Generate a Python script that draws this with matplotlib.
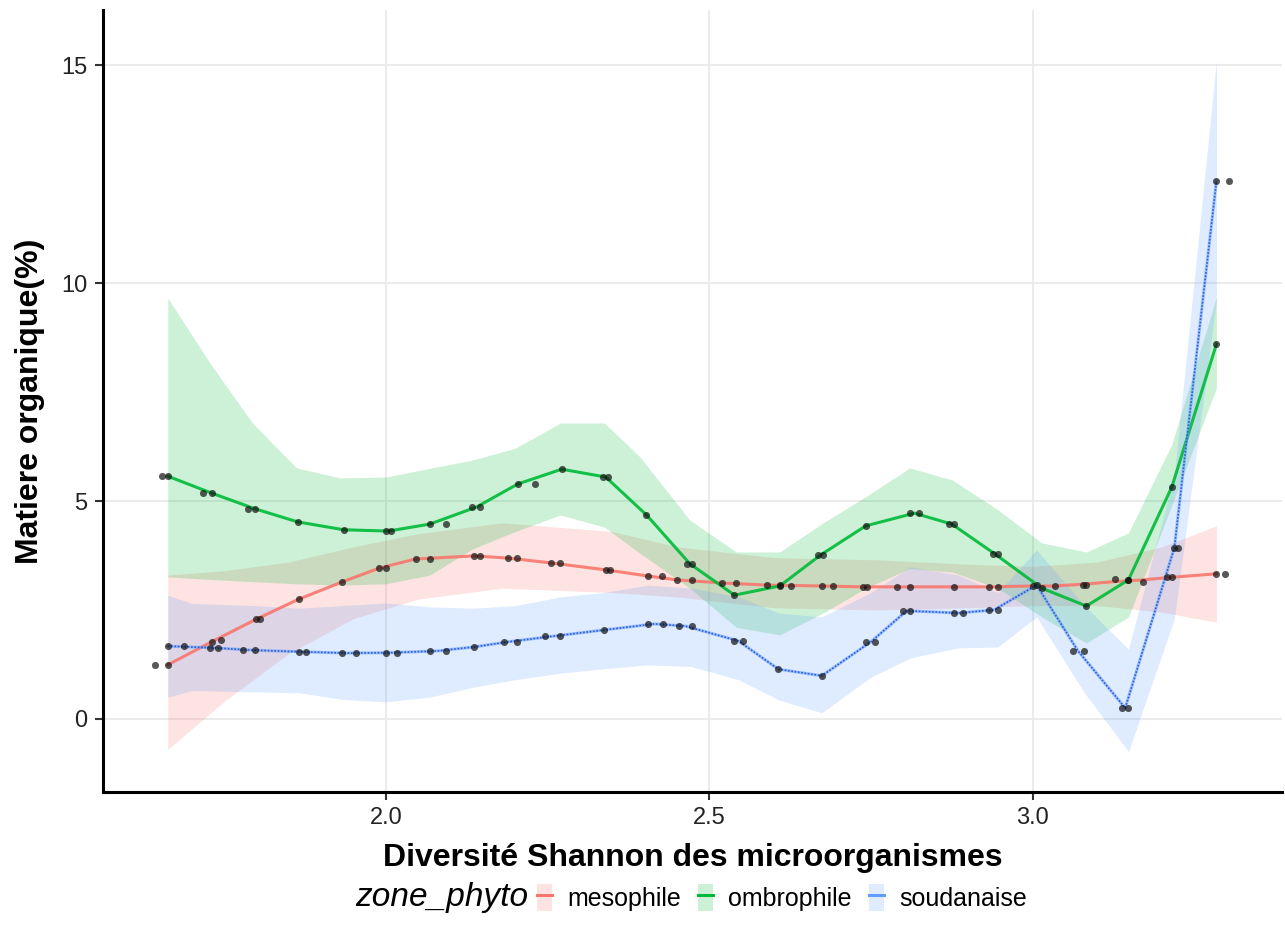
import numpy as np
import matplotlib.pyplot as plt
from matplotlib.lines import Line2D
from matplotlib.patches import Patch

plt.rcParams['font.family'] = ['Liberation Sans', 'DejaVu Sans']

# mesophile: smoothed line, confidence band, observations
meso_x = [1.663, 1.731, 1.80, 1.866, 1.932, 1.99, 2.046, 2.137, 2.189, 2.255, 2.34, 2.405,
          2.45, 2.519, 2.59, 2.675, 2.737, 2.79, 2.878, 2.932, 3.0, 3.034, 3.077, 3.127,
          3.17, 3.207, 3.284]
meso_y = [1.24, 1.77, 2.29, 2.75, 3.14, 3.46, 3.67, 3.74, 3.69, 3.58, 3.42, 3.28,
          3.19, 3.12, 3.07, 3.05, 3.03, 3.03, 3.03, 3.03, 3.05, 3.05, 3.09, 3.15,
          3.19, 3.24, 3.33]
meso_band_x = [1.663, 1.75, 1.85, 1.95, 2.05, 2.18, 2.35, 2.45, 2.6, 2.76, 2.9, 3.0, 3.1, 3.2, 3.284]
meso_lo = [-0.7, 0.4, 1.5, 2.3, 2.75, 3.0, 2.9, 2.8, 2.55, 2.5, 2.55, 2.6, 2.6, 2.45, 2.22]
meso_hi = [3.3, 3.4, 3.6, 3.95, 4.25, 4.5, 4.3, 3.95, 3.7, 3.65, 3.55, 3.5, 3.6, 3.95, 4.43]
meso_pts_x = [1.643, 1.663, 1.731, 1.746, 1.80, 1.806, 1.866, 1.932, 1.99, 2.0, 2.046, 2.068,
              2.137, 2.145, 2.189, 2.203, 2.255, 2.27, 2.34, 2.346, 2.405, 2.427, 2.45, 2.473,
              2.519, 2.541, 2.59, 2.609, 2.627, 2.675, 2.691, 2.737, 2.744, 2.79, 2.81, 2.878,
              2.932, 2.946, 3.0, 3.034, 3.077, 3.083, 3.127, 3.148, 3.17, 3.207, 3.216, 3.284, 3.297]
meso_pts_y = [1.24, 1.24, 1.77, 1.80, 2.29, 2.29, 2.75, 3.14, 3.46, 3.46, 3.67, 3.67,
              3.74, 3.74, 3.69, 3.69, 3.58, 3.58, 3.42, 3.42, 3.28, 3.28, 3.19, 3.19,
              3.12, 3.12, 3.07, 3.07, 3.06, 3.05, 3.05, 3.03, 3.03, 3.03, 3.03, 3.03,
              3.03, 3.03, 3.05, 3.04, 3.08, 3.08, 3.22, 3.19, 3.15, 3.25, 3.25, 3.33, 3.33]

# ombrophile
ombro_x = [1.663, 1.731, 1.798, 1.864, 1.935, 2.004, 2.068, 2.14, 2.204, 2.272, 2.34, 2.403,
           2.47, 2.539, 2.609, 2.672, 2.742, 2.817, 2.875, 2.942, 3.014, 3.083, 3.148, 3.215, 3.284]
ombro_y = [5.57, 5.18, 4.82, 4.52, 4.34, 4.31, 4.47, 4.86, 5.39, 5.73, 5.55, 4.68,
           3.56, 2.84, 3.05, 3.76, 4.43, 4.72, 4.47, 3.78, 3.0, 2.59, 3.19, 5.32, 8.6]
ombro_band_x = [1.663, 1.728, 1.794, 1.862, 1.929, 2.0, 2.068, 2.134, 2.2, 2.27, 2.338, 2.393,
                2.47, 2.542, 2.609, 2.676, 2.742, 2.81, 2.876, 2.946, 3.014, 3.083, 3.148, 3.215, 3.284]
ombro_lo = [3.26, 3.2, 3.15, 3.1, 3.07, 3.1, 3.3, 3.9, 4.3, 4.68, 4.4, 3.8,
            3.0, 2.1, 1.93, 2.43, 3.0, 3.45, 3.37, 3.0, 2.34, 1.74, 2.34, 4.9, 7.6]
ombro_hi = [9.66, 8.17, 6.79, 5.76, 5.53, 5.55, 5.75, 5.94, 6.21, 6.79, 6.79, 6.01,
            4.56, 3.83, 3.83, 4.5, 5.1, 5.76, 5.48, 4.8, 4.04, 3.83, 4.27, 6.3, 9.68]
ombro_pts_x = [1.654, 1.663, 1.717, 1.731, 1.787, 1.798, 1.864, 1.935, 2.0, 2.008, 2.068, 2.093,
               2.134, 2.145, 2.204, 2.23, 2.272, 2.336, 2.343, 2.403, 2.465, 2.473, 2.539, 2.609,
               2.668, 2.676, 2.742, 2.81, 2.824, 2.87, 2.879, 2.938, 2.946, 3.014, 3.083, 3.148,
               3.215, 3.284]
ombro_pts_y = [5.57, 5.57, 5.18, 5.18, 4.82, 4.82, 4.52, 4.34, 4.31, 4.31, 4.47, 4.47,
               4.86, 4.86, 5.39, 5.39, 5.73, 5.55, 5.55, 4.68, 3.56, 3.56, 2.84, 3.05,
               3.76, 3.76, 4.43, 4.72, 4.72, 4.47, 4.47, 3.78, 3.78, 3.0, 2.59, 3.19,
               5.32, 8.6]

# soudanaise
souda_x = [1.663, 1.735, 1.79, 1.87, 1.94, 2.01, 2.08, 2.136, 2.19, 2.26, 2.337, 2.415,
           2.463, 2.545, 2.607, 2.674, 2.75, 2.805, 2.885, 2.94, 3.006, 3.07, 3.143, 3.219, 3.284]
souda_y = [1.67, 1.63, 1.58, 1.54, 1.51, 1.52, 1.56, 1.65, 1.77, 1.90, 2.04, 2.18,
           2.13, 1.79, 1.14, 0.99, 1.77, 2.48, 2.43, 2.50, 3.07, 1.56, 0.25, 3.93, 12.34]
souda_band_x = [1.663, 1.70, 1.80, 1.866, 1.932, 2.0, 2.068, 2.136, 2.20, 2.27, 2.337, 2.405,
                2.473, 2.545, 2.607, 2.674, 2.75, 2.811, 2.885, 2.946, 3.006, 3.08, 3.148, 3.219, 3.284]
souda_lo = [0.5, 0.65, 0.62, 0.6, 0.45, 0.39, 0.5, 0.73, 0.9, 1.05, 1.15, 1.24,
            1.2, 0.9, 0.44, 0.14, 0.96, 1.4, 1.63, 1.65, 2.34, 0.6, -0.75, 2.3, 9.6]
souda_hi = [2.84, 2.65, 2.6, 2.54, 2.6, 2.66, 2.57, 2.54, 2.6, 2.8, 2.9, 3.07,
            3.0, 2.8, 2.43, 2.34, 2.9, 3.49, 3.3, 2.9, 3.88, 2.6, 1.6, 5.6, 15.1]
souda_pts_x = [1.663, 1.688, 1.729, 1.74, 1.779, 1.798, 1.866, 1.876, 1.932, 1.954, 2.0, 2.018,
               2.068, 2.093, 2.136, 2.182, 2.203, 2.246, 2.27, 2.337, 2.405, 2.428, 2.453, 2.473,
               2.539, 2.552, 2.607, 2.674, 2.743, 2.756, 2.799, 2.811, 2.879, 2.892, 2.932, 2.946,
               3.006, 3.062, 3.08, 3.138, 3.148, 3.219, 3.224, 3.284, 3.304]
souda_pts_y = [1.67, 1.67, 1.63, 1.63, 1.58, 1.58, 1.54, 1.54, 1.51, 1.51, 1.52, 1.52,
               1.56, 1.56, 1.65, 1.77, 1.77, 1.90, 1.90, 2.04, 2.18, 2.18, 2.13, 2.13,
               1.79, 1.79, 1.14, 0.99, 1.77, 1.77, 2.48, 2.48, 2.43, 2.43, 2.50, 2.50,
               3.07, 1.56, 1.56, 0.25, 0.25, 3.93, 3.93, 12.34, 12.34]

zones = ['mesophile', 'ombrophile', 'soudanaise']
colors = ['#F8766D', '#00BA38', '#619CFF']

fig = plt.figure(figsize=(12.85, 9.38), dpi=100)
ax = fig.add_axes([0.080, 0.156, 0.918, 0.833])

series = [
    (meso_x, meso_y, meso_band_x, meso_lo, meso_hi, meso_pts_x, meso_pts_y),
    (ombro_x, ombro_y, ombro_band_x, ombro_lo, ombro_hi, ombro_pts_x, ombro_pts_y),
    (souda_x, souda_y, souda_band_x, souda_lo, souda_hi, souda_pts_x, souda_pts_y),
]

# ribbons first, then lines, then points on top
for (lx, ly, bx, lo, hi, px, py), col in zip(series, colors):
    ax.fill_between(bx, lo, hi, color=col, alpha=0.2, linewidth=0, zorder=2)

for i, ((lx, ly, bx, lo, hi, px, py), col) in enumerate(zip(series, colors)):
    if zones[i] == 'soudanaise':
        ax.plot(lx, ly, color=col, lw=2.2, alpha=0.55, zorder=3)
        ax.plot(lx, ly, color='#2f5fd0', lw=1.2, ls=(0, (1, 1)), zorder=3)
    else:
        ax.plot(lx, ly, color=col, lw=2.2, alpha=0.9, zorder=3)

for (lx, ly, bx, lo, hi, px, py) in series:
    ax.scatter(px, py, s=26, color='#111111', alpha=0.7, linewidths=0, zorder=4)

ax.set_xlim(1.5626, 3.386)
ax.set_ylim(-1.67, 16.26)
ax.set_xticks([2.0, 2.5, 3.0])
ax.set_xticklabels(['2.0', '2.5', '3.0'])
ax.set_yticks([0, 5, 10, 15])
ax.grid(True, color='#ebebeb', lw=1.5, zorder=0)
ax.set_axisbelow(True)

for side in ['top', 'right']:
    ax.spines[side].set_visible(False)
for side in ['left', 'bottom']:
    ax.spines[side].set_linewidth(2.2)
    ax.spines[side].set_color('black')
ax.tick_params(axis='both', length=6, width=1.5, color='#333333',
               labelsize=17, labelcolor='#222222', pad=5)

ax.set_xlabel('Diversité Shannon des microorganismes', fontsize=23, fontweight='bold', labelpad=10)
ax.set_ylabel('Matiere organique(%)', fontsize=23, fontweight='bold', labelpad=12)

# horizontal legend under the x axis title
handles = [(Patch(facecolor=c, alpha=0.2, edgecolor='none'), Line2D([], [], color=c, lw=2.2))
           for c in colors]
fig.text(355 / 1285, 0.043, 'zone_phyto', fontsize=24, style='italic', va='center', ha='left')
fig.legend(handles, zones, loc='center', bbox_to_anchor=(782 / 1285, 0.043), ncol=3,
           frameon=False, fontsize=18, handlelength=0.6, handleheight=1.3,
           columnspacing=0.7, handletextpad=0.6)

fig.savefig('out.png', dpi=100)
